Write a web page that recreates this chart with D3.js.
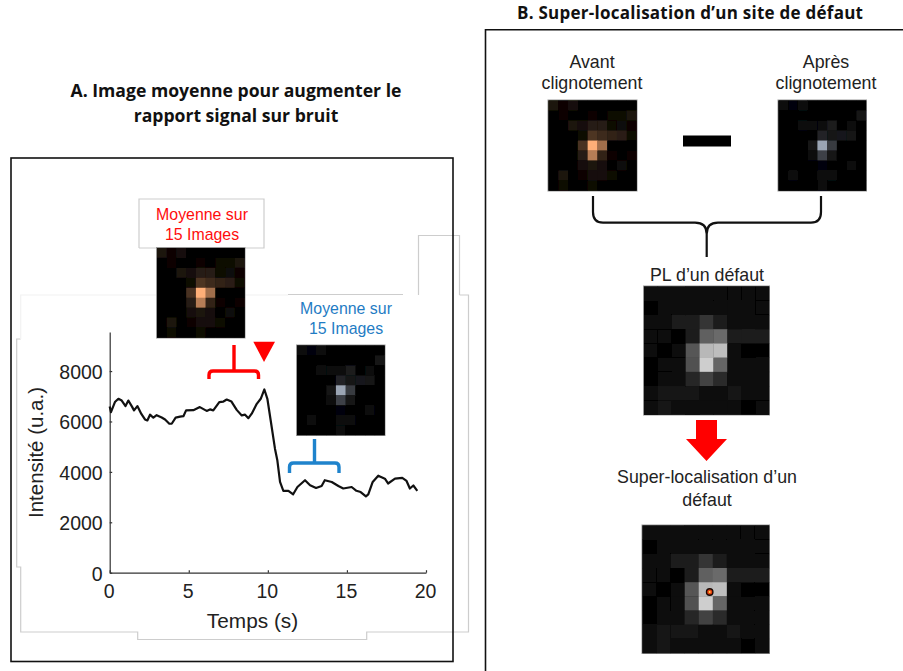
<!DOCTYPE html>
<html><head><meta charset="utf-8">
<script src="https://cdn.jsdelivr.net/npm/d3@7"></script>
<style>html,body{margin:0;padding:0;background:#fff;overflow:hidden}svg{display:block}
text{font-family:"Liberation Sans",Arial,sans-serif}.ttl{font-family:"Open Sans",sans-serif;font-weight:700}</style>
</head><body><svg id="c" width="903" height="671"></svg>
<script>
const times=[0,.08,.33,.55,.76,1,1.18,1.4,1.54,1.75,2,2.23,2.38,2.55,2.76,2.97,3.29,3.5,3.77,3.92,4.17,4.45,4.66,4.83,5.29,5.7,6.13,6.34,6.55,6.93,7.19,7.4,7.7,8.03,8.35,8.56,8.77,8.98,9.3,9.55,9.78,9.97,10.18,10.45,10.6,10.77,10.98,11.3,11.6,11.87,12.35,12.67,13.05,13.4,13.6,14.04,14.46,14.77,15.3,15.6,15.87,16.2,16.35,16.63,16.98,17.4,17.6,18.04,18.5,18.77,18.98,19.2,19.45];
const intensity=[6590,6370,6770,6900,6830,6610,6830,6600,6440,6610,6300,6080,6040,6270,6150,6250,6160,6080,5910,5910,6150,6190,6210,6440,6450,6570,6420,6480,6440,6770,6790,6870,6790,6460,6240,6270,6130,6310,6700,6900,7270,6900,6040,4920,4460,3600,3250,3250,3110,3400,3670,3470,3360,3440,3670,3600,3440,3340,3400,3250,3200,3030,3110,3600,3850,3730,3540,3730,3760,3640,3340,3460,3250];
const xTicks=[0,5,10,15,20], yTicks=[0,2000,4000,6000,8000];
const avant=[[35,12,32,10,6,6,4,4,4],[6,12,6,6,12,8,18,18,35],[4,6,36,30,50,50,16,22,14],[4,4,4,20,90,75,60,55,16],[8,4,4,85,255,170,10,6,6],[4,4,10,50,190,60,12,8,14],[8,10,8,25,40,30,6,22,8],[6,35,10,12,30,30,20,6,8],[6,16,6,8,20,4,6,10,8]];
const apres=[[16,12,24,6,4,4,4,4,6],[4,6,4,4,8,6,6,6,28],[4,6,22,14,16,38,10,14,6],[4,4,6,8,45,30,34,30,8],[6,4,4,28,160,70,6,4,4],[4,4,6,18,75,28,6,4,6],[6,6,6,10,12,10,6,16,6],[4,22,6,6,24,24,10,4,4],[4,6,4,6,14,4,6,4,4]];
const defaut=[[18,18,20,12,12,12,10,10,10],[3,12,12,14,12,12,20,20,10],[10,12,32,34,62,34,10,18,14],[10,10,0,36,105,115,34,36,34],[10,2,10,95,190,195,22,8,8],[8,10,12,90,210,110,18,12,16],[8,14,16,44,75,48,18,12,12],[16,24,24,24,16,20,24,12,16],[10,24,12,10,14,14,18,4,10]];

const svg=d3.select("#c");
const defs=svg.append("defs");
defs.append("filter").attr("id","soft").attr("x","-2%").attr("y","-2%").attr("width","104%").attr("height","104%")
 .append("feGaussianBlur").attr("stdDeviation",0.45);

function lines(d,col){svg.append("path").attr("d",d).attr("fill","none").attr("stroke",col).attr("stroke-width",1.2);}
lines("M418.5 295V235.5H459.5V295M459.5 295H468.5V632H366.7V639.5H137.7V632H20.7V567H16.7V339H20.7","#cdcdcd");
lines("M20.7 339V295H288","#f2f2f2");
lines("M288 294.5H403","#cdcdcd");
lines("M139 248V199H264V248H139","#cdcdcd");
svg.append("rect").attr("x",11).attr("y",158).attr("width",442).attr("height",503.5).attr("fill","none").attr("stroke","#111").attr("stroke-width",1.6);
svg.append("path").attr("d","M904 29.8H485.5V671").attr("fill","none").attr("stroke","#111").attr("stroke-width",1.6);

function txt(s,x,y,size,col,cls){return svg.append("text").attr("x",x).attr("y",y).attr("text-anchor","middle").attr("font-size",size).attr("fill",col).attr("class",cls||null).text(s);}
txt("A. Image moyenne pour augmenter le",236,97,17.6,"#111","ttl");
txt("rapport signal sur bruit",236,122,17.6,"#111","ttl");
txt("B. Super-localisation d’un site de défaut",690,18.5,17,"#111","ttl").attr("textLength",346);

const x=d3.scaleLinear().domain([0,20]).range([109.7,426]);
const y=d3.scaleLinear().domain([0,9550]).range([572.7,332]);
const gx=svg.append("g").attr("transform","translate(0,572.7)").call(d3.axisBottom(x).tickValues(xTicks).tickFormat(d3.format("d")).tickSize(-2.5).tickSizeOuter(0).tickPadding(11));
const gy=svg.append("g").attr("transform","translate(109.7,0)").call(d3.axisLeft(y).tickValues(yTicks).tickFormat(d3.format("d")).tickSize(-2.5).tickSizeOuter(0).tickPadding(7));
[gx,gy].forEach(g=>{g.selectAll("path,line").attr("stroke","#333").attr("stroke-width",1.2);
 g.selectAll("text").attr("font-size",19.5).attr("font-family",'"Liberation Sans",Arial,sans-serif').attr("fill","#222");});
gx.selectAll("text").attr("dy","0.71em").attr("dx",-1);
gy.selectAll("text").attr("dy","0.38em");
txt("Temps (s)",252.5,628,20.8,"#222");
svg.append("text").attr("transform","translate(43,452.5) rotate(-90)").attr("text-anchor","middle").attr("font-size",20.5).attr("fill","#222").text("Intensité (u.a.)");
svg.append("path").datum(d3.zip(times,intensity)).attr("fill","none").attr("stroke","#111").attr("stroke-width",2.2)
 .attr("stroke-linejoin","round").attr("d",d3.line().x(d=>x(d[0])).y(d=>y(d[1])));

function image(data,x0,y0,x1,y1,color){
 const bx=d3.scaleBand().domain(d3.range(9)).range([x0,x1]);
 const by=d3.scaleBand().domain(d3.range(9)).range([y0,y1]);
 svg.append("rect").attr("x",x0-.5).attr("y",y0-.5).attr("width",x1-x0+1).attr("height",y1-y0+1).attr("fill","#000").attr("stroke","#999").attr("stroke-width",1);
 const g=svg.append("g").attr("filter","url(#soft)");
 data.forEach((row,r)=>row.forEach((v,c)=>{
  g.append("rect").attr("x",bx(c)).attr("y",by(r)).attr("width",bx.bandwidth()+.3).attr("height",by.bandwidth()+.3).attr("fill",color(v));
 }));
}
const orange=d3.scalePow().exponent(1.15).domain([0,255]).range(["#000","#ffaf78"]);
const steel=d3.scalePow().exponent(1.25).domain([0,160]).range(["#000","#9ba5b4"]);
const gray=d3.scalePow().exponent(1.1).domain([0,255]).range(["#000","#fff"]);
image(avant,157,248,244.5,337.5,orange);
image(apres,297,345.5,384.5,435,steel);
image(avant,548.5,100.5,636.5,190.5,orange);
image(apres,778.5,100.5,866,190.5,steel);
image(defaut,644,286.5,769,414.5,gray);
image(defaut,642.5,525.5,769,653,gray);
svg.append("circle").attr("cx",709.7).attr("cy",592).attr("r",3.2).attr("fill","#e8400f").attr("stroke","#1a0a05").attr("stroke-width",1.4);
svg.append("circle").attr("cx",709.7).attr("cy",592).attr("r",1).attr("fill","#ffd84a");

txt("Moyenne sur",202,220,15.9,"#ff0d0d");
txt("15 Images",202,240,15.9,"#ff0d0d");
txt("Moyenne sur",346,314,15.9,"#1f7cc4");
txt("15 Images",346,334,15.9,"#1f7cc4");
txt("Avant",592,68,17.8,"#222");
txt("clignotement",592,89,17.8,"#222");
txt("Après",826,68,17.8,"#222");
txt("clignotement",826,89,17.8,"#222");
txt("PL d’un défaut",707,281,17.8,"#222");
txt("Super-localisation d’un",707,483,17.8,"#222");
txt("défaut",707,506,17.8,"#222");

function bracket(d,col,w){svg.append("path").attr("d",d).attr("fill","none").attr("stroke",col).attr("stroke-width",w);}
bracket("M209 379V375Q209 371 213 371H254.5Q258.5 371 258.5 375V379M234 345V371","#ff0000",3.4);
bracket("M289.5 473V467Q289.5 463 293.5 463H335Q339 463 339 467V473M314.5 439V463","#1f83cc",3.4);
svg.append("path").attr("d","M253.3 341.7H275L264 362Z").attr("fill","#ff0000");
bracket("M593 196V212Q593 222.7 603 222.7H695Q706.7 222.7 706.7 234V257M706.7 234Q706.7 222.7 718 222.7H811Q821 222.7 821 212V196","#111",2.2);
svg.append("rect").attr("x",683).attr("y",135.5).attr("width",48).attr("height",11).attr("fill","#000");
svg.append("path").attr("d","M696 420H717V439H727L706.5 461L686 439H696Z").attr("fill","#ff0000");
</script></body></html>
